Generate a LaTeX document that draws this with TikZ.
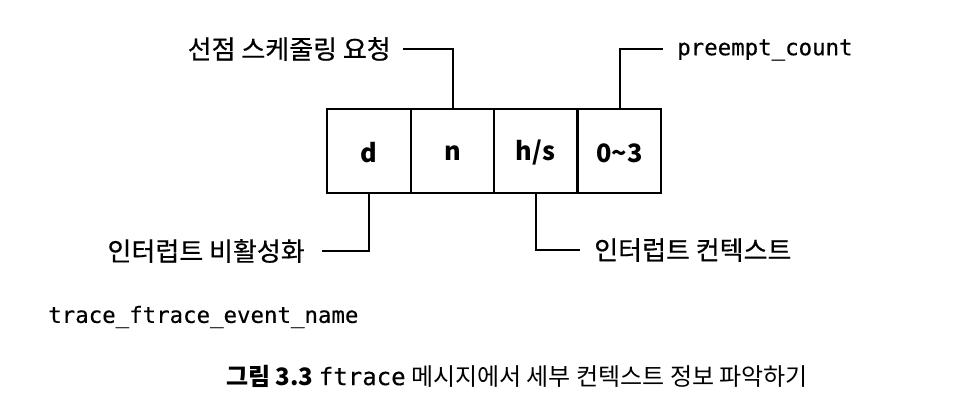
\documentclass[tikz,border=0pt]{standalone}
\usepackage{fontspec}
\setmainfont{Noto Sans CJK KR}
\newfontfamily\krmed[FakeBold=0.5]{Noto Sans CJK KR}
\newfontfamily\monof[FakeBold=0.3]{DejaVu Sans Mono}
\begin{document}
\begin{tikzpicture}[x=0.75pt,y=-0.75pt,
  cell/.style={draw, line width=1.5pt, minimum width=62.8pt, minimum height=62.3pt, inner sep=0pt},
  celltext/.style={inner sep=0pt, yshift=-1.5pt, font=\bfseries\fontsize{19}{22}\selectfont},
  lab/.style={inner sep=0pt, font=\krmed\fontsize{19.5}{22}\selectfont},
  caplab/.style={inner sep=0pt, font=\fontsize{18}{22}\selectfont},
  mono/.style={inner sep=0pt, font=\monof\fontsize{16.8}{20}\selectfont},
  conn/.style={line width=1.5pt}]
\useasboundingbox (0,0) rectangle (964,415);
\fill[white] (0,0) rectangle (964,415);
% cells
\node[cell] (b1) at (369,151) {};
\node[cell] (b2) at (452.5,151) {};
\node[cell] (b3) at (535.5,151) {};
\node[cell] (b4) at (619.5,151) {};
\node[celltext] (t1) at (b1) {d};
\node[celltext] (t2) at (b2) {n};
\node[celltext] (t3) at (b3) {h/s};
\node[celltext] (t4) at (b4) {0\textasciitilde3};
% labels
\node[lab, anchor=east] (l1) at (391,49) {선점 스케줄링 요청};
\node[mono, anchor=west] (l2) at (677,50) {preempt\_count};
\node[lab, anchor=east] (l3) at (305,251) {인터럽트 비활성화};
\node[lab, anchor=west] (l4) at (594,250) {인터럽트 컨텍스트};
\node[mono, anchor=west] (l5) at (48,317) {trace\_ftrace\_event\_name};
\node[caplab, anchor=west] (cap) at (226,376) {{\bfseries 그림 3.3} {\monof ftrace} 메시지에서 세부 컨텍스트 정보 파악하기};
% connector ends
\coordinate (e1) at (403,49);
\coordinate (e2) at (663,49);
\coordinate (e3) at (322,251);
\coordinate (e4) at (580,250);
\draw[conn] (b2.north) |- (e1);
\draw[conn] (b4.north) |- (e2);
\draw[conn] (b1.south) |- (e3);
\draw[conn] (b3.south) |- (e4);
\end{tikzpicture}
\end{document}
